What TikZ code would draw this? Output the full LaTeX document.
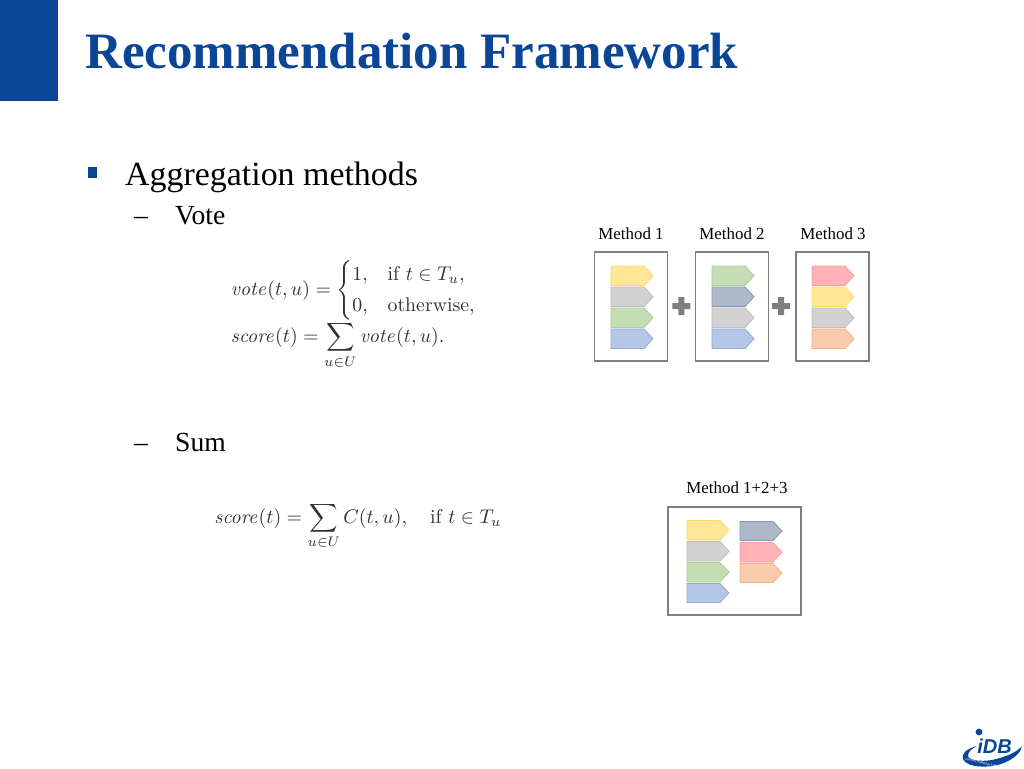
\documentclass[tikz,border=0pt]{standalone}
\usepackage{amsmath}
\usepackage{graphicx}
\usepackage[no-math]{fontspec}
\newfontfamily\serif{Liberation Serif}
\newfontfamily\serifb{Liberation Serif Bold}
\newfontfamily\logofont{Liberation Sans}
\usetikzlibrary{calc}
\definecolor{brand}{HTML}{0B4595}
\definecolor{frameg}{HTML}{7F7F7F}
\definecolor{plusg}{HTML}{7F7F7F}
\definecolor{formulak}{HTML}{303030}
\tikzset{
  x=1pt,y=-1pt,
  txt/.style={inner sep=0pt,anchor=base west},
  frame/.style={draw=frameg,line width=1.2pt,fill=white},
  yel/.style={fill=yelF,draw=yelD},
  gry/.style={fill=gryF,draw=gryD},
  grn/.style={fill=grnF,draw=grnD},
  blu/.style={fill=bluF,draw=bluD},
  sla/.style={fill=slaF,draw=slaD},
  pnk/.style={fill=pnkF,draw=pnkD},
  org/.style={fill=orgF,draw=orgD},
  plus/.style={fill=plusg,draw=none}
}
\definecolor{yelF}{HTML}{FFE699}\definecolor{yelD}{HTML}{FFD966}
\definecolor{gryF}{HTML}{D2D2D2}\definecolor{gryD}{HTML}{BDBDBD}
\definecolor{grnF}{HTML}{C5DDB4}\definecolor{grnD}{HTML}{A9D18E}
\definecolor{bluF}{HTML}{B4C7E7}\definecolor{bluD}{HTML}{8FAADC}
\definecolor{slaF}{HTML}{ADB9CA}\definecolor{slaD}{HTML}{8497B0}
\definecolor{pnkF}{HTML}{FFB3B8}\definecolor{pnkD}{HTML}{FF9B9B}
\definecolor{orgF}{HTML}{F8CBAD}\definecolor{orgD}{HTML}{F4B183}
% #1 style, #2 left x, #3 top y, #4 bottom y
\newcommand{\tagshape}[4]{\filldraw[#1,line width=0.8pt] (#2,#3) -- ++(33,0) -- (#2+42,{(#3+#4)/2}) -- (#2+33,#4) -- (#2,#4) -- cycle;}
\newcommand{\plusmark}[2]{\fill[plus] (#1-9,#2-3) -- ++(6,0) -- ++(0,-6) -- ++(6,0) -- ++(0,6) -- ++(6,0) -- ++(0,6) -- ++(-6,0) -- ++(0,6) -- ++(-6,0) -- ++(0,-6) -- ++(-6,0) -- cycle;}
\begin{document}
\begin{tikzpicture}
\useasboundingbox (0,0) rectangle (1024,768);
\fill[white] (0,0) rectangle (1024,768);
\fill[brand] (0,0) rectangle (58,101);
\node[txt,text=brand] (title) at (85,68) {\fontsize{51}{54}\selectfont\serifb Recommendation Framework};
\fill[brand] (88,167) rectangle (97,178);
\node[txt] (agg) at (125,185) {\fontsize{33.9}{36}\selectfont\serif Aggregation methods};
\node[txt] (dash1) at (134,224) {\fontsize{27.6}{30}\selectfont\serif –};
\node[txt] (vote) at (175,224) {\fontsize{27.6}{30}\selectfont\serif Vote};
\node[txt] (dash2) at (134,451) {\fontsize{27.6}{30}\selectfont\serif –};
\node[txt] (sum) at (175,451) {\fontsize{27.6}{30}\selectfont\serif Sum};

\node[inner sep=0pt,anchor=center,text=formulak] (f1) at (354,315) {\scalebox{1.98}{\fontsize{10}{12}\selectfont
$\begin{aligned}
&\mathit{vote}(t,u) = \begin{cases} 1, & \text{if } t\in T_u,\\[1pt] 0, & \text{otherwise,}\end{cases}\\[-3pt]
&\mathit{score}(t) = \sum_{u\in U}\mathit{vote}(t,u).
\end{aligned}$}};
\node[inner sep=0pt,anchor=center,text=formulak] (f2) at (358,526) {\scalebox{1.98}{\fontsize{10}{12}\selectfont
$\mathit{score}(t) = \displaystyle\sum_{u\in U} C(t,u),\quad \text{if } t\in T_u$}};

\node[anchor=base,inner sep=0pt] (m1) at (631,239) {\fontsize{16.9}{18}\selectfont\serif Method 1};
\node[anchor=base,inner sep=0pt] (m2) at (732,239) {\fontsize{16.9}{18}\selectfont\serif Method 2};
\node[anchor=base,inner sep=0pt] (m3) at (833,239) {\fontsize{16.9}{18}\selectfont\serif Method 3};
\node[anchor=base,inner sep=0pt] (m4) at (737,493) {\fontsize{16.9}{18}\selectfont\serif Method 1+2+3};

\draw[frame] (594.5,252) rectangle (667.5,361);
\draw[frame] (695.5,252) rectangle (768.5,361);
\draw[frame] (796,252) rectangle (869,361);
\draw[frame] (668,507) rectangle (801,615);

\tagshape{yel}{611}{266}{285.5}
\tagshape{gry}{611}{287}{306.5}
\tagshape{grn}{611}{308}{327.5}
\tagshape{blu}{611}{329}{348.5}
\tagshape{grn}{712}{266}{285.5}
\tagshape{sla}{712}{287}{306.5}
\tagshape{gry}{712}{308}{327.5}
\tagshape{blu}{712}{329}{348.5}
\tagshape{pnk}{812}{266}{285.5}
\tagshape{yel}{812}{287}{306.5}
\tagshape{gry}{812}{308}{327.5}
\tagshape{org}{812}{329}{348.5}

\tagshape{yel}{687}{520.5}{540}
\tagshape{gry}{687}{541.5}{561}
\tagshape{grn}{687}{562.5}{582}
\tagshape{blu}{687}{583.5}{602.5}
\tagshape{sla}{740}{521.5}{540.5}
\tagshape{pnk}{740}{542.5}{562}
\tagshape{org}{740}{563.5}{582.5}

\plusmark{681.3}{306}
\plusmark{781}{306}

% logo
\fill[brand] (979,732) circle (3.4);
\fill[brand] (977,746) .. controls (966,749) and (961,754) .. (963,759)
  .. controls (966,768) and (992,769) .. (1006,762)
  .. controls (1015,758) and (1021,752) .. (1022,746)
  .. controls (1016,753) and (1005,757) .. (992,760)
  .. controls (980,762) and (969,760) .. (968,756)
  .. controls (968,752) and (971,749) .. (977,746) -- cycle;
\node[inner sep=0pt,text=brand,anchor=center] (logo) at (994.5,746) {\fontsize{20}{20}\selectfont\logofont\bfseries\itshape iDB};
\node[inner sep=0pt,text=white,anchor=center,rotate=-13] (logosub) at (981,762.5) {\fontsize{3.2}{4}\selectfont\logofont Internet Database Lab};
\end{tikzpicture}
\end{document}
